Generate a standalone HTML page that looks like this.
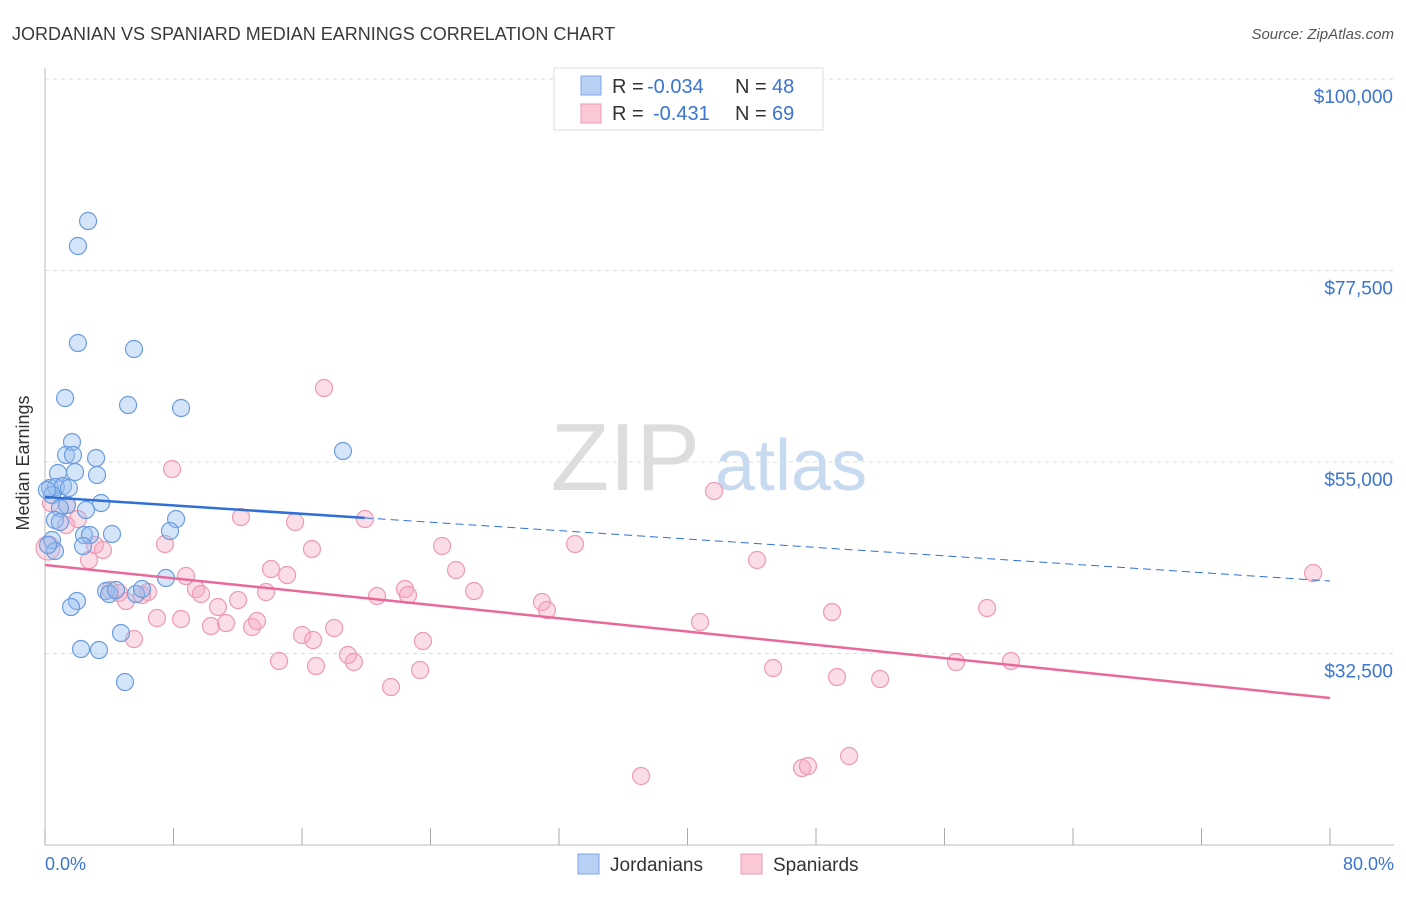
<!DOCTYPE html>
<html><head><meta charset="utf-8">
<style>
body{margin:0;background:#fff;font-family:"Liberation Sans",sans-serif;}
svg text{font-family:"Liberation Sans",sans-serif;}
</style></head>
<body>
<svg id="chart" width="1406" height="892" xmlns="http://www.w3.org/2000/svg">
<text x="12" y="40" font-size="18" fill="#3a3a3a">JORDANIAN VS SPANIARD MEDIAN EARNINGS CORRELATION CHART</text>
<text x="1394" y="39" font-size="15" fill="#555" font-style="italic" text-anchor="end">Source: ZipAtlas.com</text>
<g id="grid"></g>
<text x="700" y="490" font-size="96" fill="#ddd" font-family="Liberation Serif" text-anchor="end">ZIP</text>
<text x="715" y="490" font-size="72" fill="#c8daf0">atlas</text>
<line x1="45" y1="68" x2="45" y2="845" stroke="#bbb"/>
<line x1="45" y1="845" x2="1394" y2="845" stroke="#bbb"/>
<g id="xticks"></g>
<text x="22" y="456" font-size="18" fill="#333" text-anchor="middle" transform="rotate(-90 29 456)">Median Earnings</text>
<text x="45" y="870" font-size="18" fill="#3b74d1">0.0%</text>
<text x="1394" y="870" font-size="18" fill="#3b74d1" text-anchor="end">80.0%</text>
<g id="pts"></g>
<g id="lines"></g>
<g>
<rect x="554" y="68" width="269" height="62" fill="#fff" stroke="#ddd"/>
<rect x="581" y="76" width="20" height="19" fill="#b7d0f3" stroke="#7fa8e6"/>
<rect x="581" y="104" width="20" height="19" fill="#fbc8d6" stroke="#ee9ab3"/>
<text x="612" y="93" font-size="20" fill="#333">R =</text>
<text x="647" y="93" font-size="20" fill="#3b74d1">-0.034</text>
<text x="735" y="93" font-size="20" fill="#333">N =</text>
<text x="772" y="93" font-size="20" fill="#3b74d1">48</text>
<text x="612" y="120" font-size="20" fill="#333">R =</text>
<text x="653" y="120" font-size="20" fill="#3b74d1">-0.431</text>
<text x="735" y="120" font-size="20" fill="#333">N =</text>
<text x="772" y="120" font-size="20" fill="#3b74d1">69</text>
</g>
<g>
<rect x="578" y="854" width="21" height="20" fill="#b7d0f3" stroke="#7fa8e6"/>
<text x="610" y="871" font-size="19" fill="#333">Jordanians</text>
<rect x="741" y="854" width="21" height="20" fill="#fbc8d6" stroke="#ee9ab3"/>
<text x="773" y="871" font-size="19" fill="#333">Spaniards</text>
</g>
</svg>
<script>
const yTicks=[100000,77500,55000,32500];
const yTickLabels=["$100,000","$77,500","$55,000","$32,500"];
const blueX=[2.68,2.05,2.05,5.54,1.25,5.17,8.47,18.55,1.68,1.31,1.74,3.18,0.81,1.87,3.24,0.31,0.68,1.12,1.49,0.44,3.49,1.37,0.93,2.55,0.62,0.93,8.16,2.43,2.8,4.17,7.78,0.44,2.37,0.62,7.53,3.8,3.99,4.42,5.67,6.04,1.99,1.62,4.73,2.24,3.36,4.98,0.12,0.19];
const blueY=[83315,80378,68980,68275,62518,61695,61343,56290,57348,55820,55820,55468,53705,53822,53470,51943,52060,52178,51943,51120,50180,49945,49593,49358,48183,47948,48300,46420,46420,46538,46890,45833,45128,44540,41368,39840,39488,39958,39488,40075,38665,37960,34905,33025,32908,29148,51708,45245];
const pinkX=[17.37,7.91,41.65,0.37,1.37,2.05,12.2,15.57,19.92,1.31,3.11,3.61,7.47,16.62,24.72,33.0,2.74,44.33,25.59,14.07,15.07,8.78,78.95,4.05,4.61,6.41,9.4,13.76,22.41,26.71,9.71,6.04,20.67,22.6,5.04,12.02,30.94,31.25,10.77,49.0,58.65,6.97,8.47,10.33,11.27,12.89,13.2,18.0,40.78,5.54,16.0,16.69,23.53,18.86,14.57,16.87,19.23,45.33,56.72,60.14,23.35,49.31,51.99,21.54,37.11,47.13,47.5,50.06,0.19];
const pinkY=[63693,54175,51590,50180,49945,48300,48535,47948,48300,47595,45245,44658,45363,44775,45128,45363,43483,43483,42308,42425,41720,41603,41955,39958,39605,39723,40075,39723,40075,39840,39488,39370,39253,39370,38665,38783,38548,37608,37960,37373,37843,36668,36550,35728,36080,35610,36315,35493,36198,34200,34670,34083,33965,32320,31615,31028,31498,30793,31498,31615,30558,29735,29500,28560,18103,19043,19278,20453,44893];
const blueTrend=[50885,41015];
const pinkTrend=[42895,27268];
const NS="http://www.w3.org/2000/svg";
const X=p=>45+p*1285/80;
const Y=v=>79+(100000-v)*191.5/22500;
function mk(t,a,parent){const e=document.createElementNS(NS,t);for(const k in a)e.setAttribute(k,a[k]);parent.appendChild(e);return e;}
const grid=document.getElementById('grid');
yTicks.forEach((v,i)=>{
 const l=mk('line',{x1:45,x2:1394,y1:Y(v),y2:Y(v),stroke:'#ddd','stroke-dasharray':'4,4'},grid);
 
 
 const t=mk('text',{x:1393,y:Y(v)+24,'font-size':19,fill:'#3b74d1','text-anchor':'end'},grid);
 t.textContent=yTickLabels[i];
 
 
});
const xt=document.getElementById('xticks');
for(let i=0;i<=10;i++){const l=mk('line',{x1:X(i*8),x2:X(i*8),y1:828,y2:845,stroke:'#aaa'},xt);
 
 }
const pts=document.getElementById('pts');
pinkX.forEach((x,i)=>{const c=mk('circle',{cx:X(x),cy:Y(pinkY[i]),r:i==pinkX.length-1?12:8.5,fill:'rgba(246,170,195,0.4)',stroke:'#ee9ab3','stroke-width':1.2},pts);
 
 });
blueX.forEach((x,i)=>{const c=mk('circle',{cx:X(x),cy:Y(blueY[i]),r:8.5,fill:'rgba(150,190,240,0.4)',stroke:'#6b9ce0','stroke-width':1.2},pts);
 
 });
const ln=document.getElementById('lines');
const by=p=>blueTrend[0]+(blueTrend[1]-blueTrend[0])*p/80;
let l1=mk('line',{x1:X(0),y1:Y(by(0)),x2:X(19.9),y2:Y(by(19.9)),stroke:'#2f6fd6','stroke-width':2.5},ln);


let l2=mk('line',{x1:X(19.9),y1:Y(by(19.9)),x2:X(80),y2:Y(by(80)),stroke:'#2f6fd6','stroke-width':1,'stroke-dasharray':'8,5'},ln);


let l3=mk('line',{x1:X(0),y1:Y(pinkTrend[0]),x2:X(80),y2:Y(pinkTrend[1]),stroke:'#e8699a','stroke-width':2.5},ln);


</script>
</body></html>
